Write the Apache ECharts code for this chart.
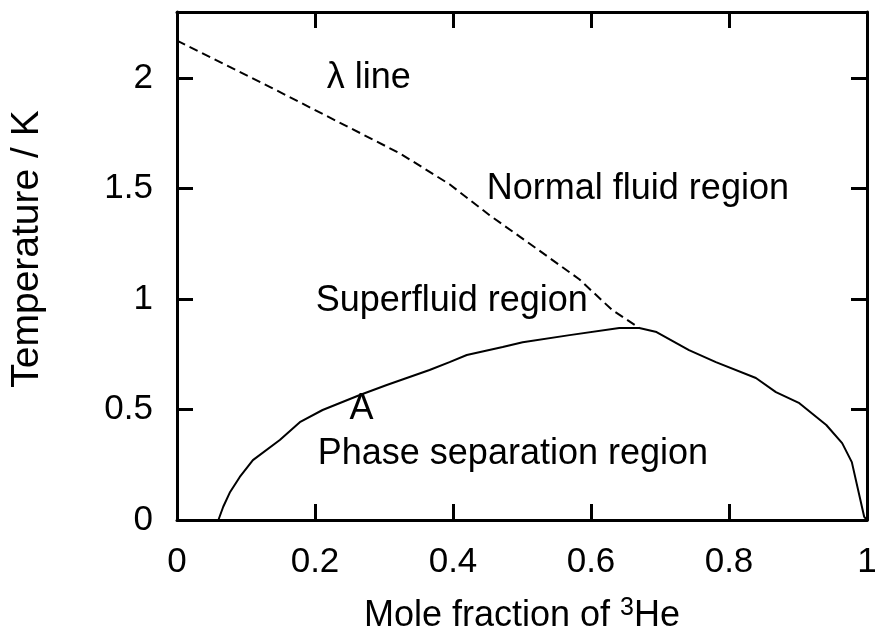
<!DOCTYPE html>
<html>
<head>
<meta charset="utf-8">
<script src="https://cdn.jsdelivr.net/npm/echarts@6/dist/echarts.min.js"></script>
<style>
  html, body { margin: 0; padding: 0; background: #fff; }
  #chart { width: 877px; height: 639px; }
</style>
</head>
<body>
<div id="chart"></div>
<script>
// Phase boundary (solid): mole fraction of 3He vs temperature in K
const phaseX = [0.06, 0.067, 0.077, 0.091, 0.110, 0.149, 0.178, 0.211, 0.265, 0.304,
                0.366, 0.395, 0.420, 0.472, 0.501, 0.569, 0.641, 0.670, 0.695, 0.742,
                0.781, 0.839, 0.868, 0.902, 0.941, 0.964, 0.978, 0.996, 1.0];
const phaseT = [0.0, 0.06, 0.127, 0.195, 0.271, 0.362, 0.443, 0.498, 0.566, 0.611,
                0.679, 0.715, 0.747, 0.783, 0.805, 0.837, 0.869, 0.869, 0.851, 0.769,
                0.715, 0.643, 0.579, 0.529, 0.430, 0.348, 0.262, 0.014, 0.0];

// Lambda line (dashed)
const lambdaX = [0.0, 0.135, 0.323, 0.395, 0.453, 0.525, 0.583, 0.631, 0.670];
const lambdaT = [2.17, 1.96, 1.66, 1.52, 1.38, 1.22, 1.09, 0.95, 0.87];

// Region annotations: left edge x, vertical centre T
const noteText = ['\u03bb line', 'Normal fluid region', 'Superfluid region', 'A', 'Phase separation region'];
const noteX = [0.217, 0.449, 0.201, 0.250, 0.204];
const noteT = [2.00, 1.50, 0.99, 0.50, 0.30];

// Tick values
const xTicks = [0, 0.2, 0.4, 0.6, 0.8, 1];
const yTicks = [0, 0.5, 1, 1.5, 2];

const FONT = 'Liberation Sans, Arial, Helvetica, sans-serif';
const zip = (a, b) => a.map((v, i) => [v, b[i]]);

const frameLine = { show: true, onZero: false, lineStyle: { color: '#000', width: 3 } };
const innerTick = (vals) => ({
  show: true, inside: true, length: 16, customValues: vals,
  lineStyle: { color: '#000', width: 3 }
});

const chart = echarts.init(document.getElementById('chart'), null, { renderer: 'canvas' });
chart.setOption({
  animation: false,
  backgroundColor: '#fff',
  grid: {
    left: 177, right: 10, top: 12, bottom: 119,
    containLabel: false, outerBoundsMode: 'none'
  },
  xAxis: [
    {
      type: 'value', min: 0, max: 1, interval: 0.2,
      axisLine: frameLine, axisTick: innerTick(xTicks), splitLine: { show: false },
      axisLabel: {
        margin: 25, color: '#000', fontFamily: FONT, fontSize: 35,
        customValues: xTicks, formatter: v => String(v)
      },
      name: '{a|Mole fraction of }{s|3}{a|He}',
      nameLocation: 'middle', nameGap: 76,
      nameTextStyle: {
        rich: {
          a: { fontFamily: FONT, fontSize: 36, color: '#000' },
          s: { fontFamily: FONT, fontSize: 25, color: '#000', verticalAlign: 'bottom', padding: [0, 0, 15, 0] }
        }
      }
    },
    {
      type: 'value', min: 0, max: 1, interval: 0.2, position: 'top',
      axisLine: frameLine, axisTick: innerTick(xTicks), axisLabel: { show: false }, splitLine: { show: false }
    }
  ],
  yAxis: [
    {
      type: 'value', min: 0, max: 2.3, interval: 0.5,
      axisLine: frameLine, axisTick: innerTick(yTicks), splitLine: { show: false },
      axisLabel: {
        margin: 24, color: '#000', fontFamily: FONT, fontSize: 35,
        customValues: yTicks, formatter: v => String(v)
      },
      name: 'Temperature / K', nameLocation: 'middle', nameGap: 130, nameRotate: 90,
      nameTextStyle: { fontFamily: FONT, fontSize: 39, color: '#000', padding: [0, 0, 0, 34] }
    },
    {
      type: 'value', min: 0, max: 2.3, interval: 0.5, position: 'right',
      axisLine: frameLine, axisTick: innerTick(yTicks), axisLabel: { show: false }, splitLine: { show: false }
    }
  ],
  series: [
    {
      type: 'line', data: zip(phaseX, phaseT), symbol: 'none', smooth: false,
      lineStyle: { color: '#000', width: 2 }, z: 3
    },
    {
      type: 'line', data: zip(lambdaX, lambdaT), symbol: 'none', smooth: false,
      lineStyle: { color: '#000', width: 2, type: [9, 5] }, z: 3
    },
    {
      type: 'scatter', symbolSize: 0, silent: true, z: 4,
      itemStyle: { color: '#000', opacity: 1 },
      data: noteText.map((t, i) => [noteX[i], noteT[i], t]),
      label: {
        show: true, position: 'right', distance: 0,
        formatter: p => p.data[2],
        fontFamily: FONT, fontSize: 36, color: '#000', opacity: 1
      }
    }
  ]
});
</script>
</body>
</html>
